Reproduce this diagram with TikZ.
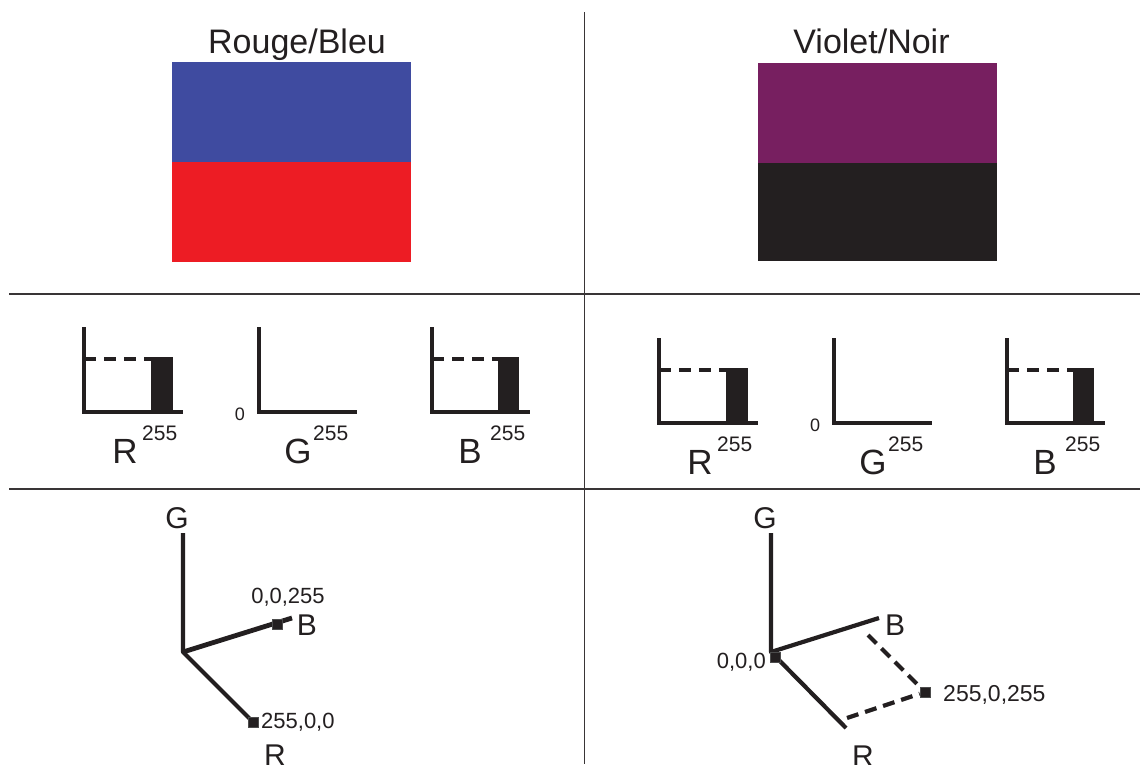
\documentclass[tikz,border=0pt]{standalone}
\usepackage{fontspec}
\setmainfont{Liberation Sans}
\definecolor{ink}{HTML}{231F20}
\definecolor{cblue}{HTML}{3F4BA0}
\definecolor{cred}{HTML}{ED1C24}
\definecolor{cviolet}{HTML}{771F60}
\definecolor{cblack}{HTML}{231F20}
\newcommand{\histset}[2]{%
  % #1 prefix, #2 shift
  \begin{scope}[shift={#2}]
    % R
    \draw[haxis] (84,327) -- (84,412) -- (183,412);
    \fill[ink] (151,357) rectangle (173,412);
    \draw[hdash] (84,359) -- (173,359);
    \node[hlet] (#1R) at (125,463) {R};
    \node[hsup, anchor=base west] (#1Rs) at (142,440) {255};
    % G
    \draw[haxis] (259,327) -- (259,412) -- (357,412);
    \node[hzero] (#1Gz) at (240,420) {0};
    \node[hlet] (#1G) at (298,463) {G};
    \node[hsup, anchor=base west] (#1Gs) at (313,440) {255};
    % B
    \draw[haxis] (432,327) -- (432,412) -- (530,412);
    \fill[ink] (498,357) rectangle (519,412);
    \draw[hdash] (432,359) -- (519,359);
    \node[hlet] (#1B) at (470,463) {B};
    \node[hsup, anchor=base west] (#1Bs) at (490,440) {255};
  \end{scope}}
\begin{document}
\begin{tikzpicture}[x=1pt,y=-1pt,
  sep/.style={draw=ink!90, line width=1.3},
  haxis/.style={draw=ink, line width=4.5, line join=miter},
  hdash/.style={draw=ink, line width=4.5, dash pattern=on 12 off 8},
  axis3/.style={draw=ink, line width=4.2, line join=round},
  dash3/.style={draw=ink, line width=4.2, dash pattern=on 12 off 7},
  marker/.style={rectangle, fill=ink, draw=gray!60!black, line width=0.6, minimum size=10, inner sep=0},
  title/.style={anchor=base, inner sep=0, font=\fontsize{34}{40}\selectfont, text=ink},
  hlet/.style={anchor=base, inner sep=0, font=\fontsize{35}{40}\selectfont, text=ink},
  hsup/.style={anchor=base, inner sep=0, font=\fontsize{21}{24}\selectfont, text=ink},
  hzero/.style={anchor=base, inner sep=0, font=\fontsize{18}{22}\selectfont, text=ink},
  alet/.style={anchor=base, inner sep=0, font=\fontsize{30}{34}\selectfont, text=ink},
  coord/.style={anchor=base, inner sep=0, font=\fontsize{22}{26}\selectfont, text=ink}]
\useasboundingbox (0,0) rectangle (1140,764);
\fill[white] (0,0) rectangle (1140,764);

% separators
\coordinate (vt) at (584.5,12);
\coordinate (vb) at (584.5,764);
\coordinate (h1l) at (9,294);
\coordinate (h1r) at (1140,294);
\coordinate (h2l) at (9,489);
\coordinate (h2r) at (1140,489);
\draw[sep] (vt) -- (vb);
\draw[sep] (h1l) -- (h1r);
\draw[sep] (h2l) -- (h2r);

% top panels
\node[title] (t1) at (297,53) {Rouge/Bleu};
\fill[cblue] (172,62) rectangle (411,162);
\fill[cred] (172,162) rectangle (411,262);
\node[title] (t2) at (871.5,53) {Violet/Noir};
\fill[cviolet] (758,63) rectangle (997,163);
\fill[cblack] (758,163) rectangle (997,261);

% histograms
\histset{L}{(0,0)}
\histset{P}{(575,11)}

% bottom left axes
\coordinate (LO) at (183,652);
\coordinate (LGe) at (183,533);
\coordinate (LBe) at (292,618);
\coordinate (LRe) at (253,722);
\draw[axis3] (LGe) -- (LO) -- (LRe);
\draw[axis3, line width=4.8] (LO) -- (LBe);
\node[marker] (LmB) at (277,624.5) {};
\node[marker] (LmR) at (253,722) {};
\node[alet] (LG) at (177,528) {G};
\node[alet] (LB) at (307,635) {B};
\node[alet] (LR) at (275,765) {R};
\node[coord] (LcB) at (288,603) {0,0,255};
\node[coord, anchor=base west] (LcR) at (261,728) {255,0,0};

% bottom right axes
\coordinate (RO) at (771,652);
\coordinate (RGe) at (771,533);
\coordinate (RBe) at (879,618);
\coordinate (RRe) at (846,728);
\coordinate (RdB) at (868,635);
\coordinate (RdR) at (847,718);
\draw[axis3] (RGe) -- (RO) -- (RRe);
\draw[axis3] (RO) -- (RBe);
\node[marker] (RmO) at (775,657) {};
\node[marker] (RmP) at (925,692) {};
\draw[dash3] (RdB) -- (RmP);
\draw[dash3] (RdR) -- (RmP);
\node[alet] (RG) at (765,528) {G};
\node[alet] (RB) at (895,635) {B};
\node[alet] (RR) at (863,766) {R};
\node[coord, anchor=base east] (RcO) at (766,668) {0,0,0};
\node[coord, anchor=base west, font=\fontsize{23}{26}\selectfont] (RcP) at (943,701) {255,0,255};
\end{tikzpicture}
\end{document}
